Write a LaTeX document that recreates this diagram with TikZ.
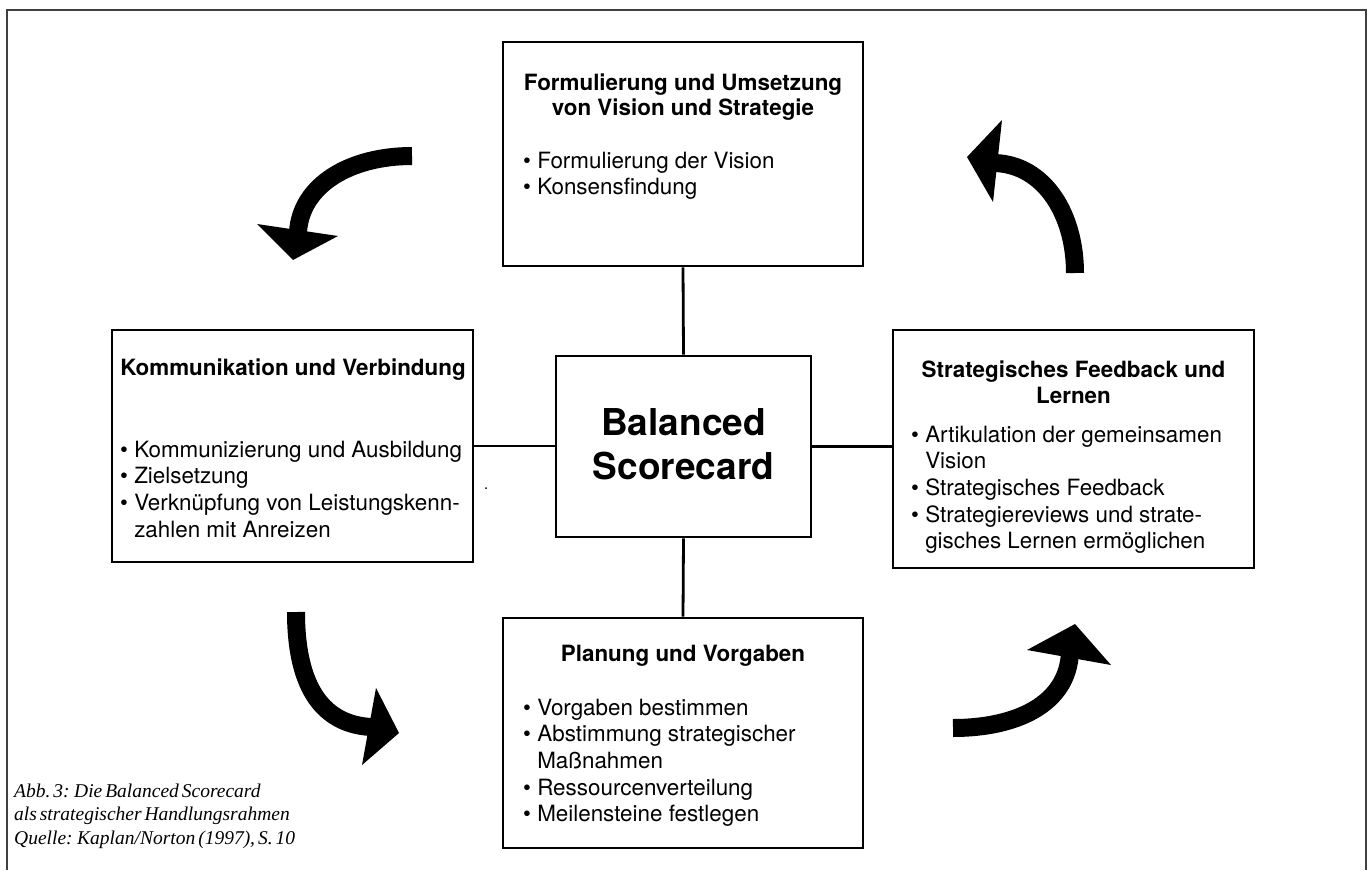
\documentclass[tikz,border=0pt]{standalone}
\usepackage{fontspec}
\setmainfont{TeX Gyre Heros}
\newfontfamily\capfont{Liberation Serif}[WordSpace=0.6]
\begin{document}
\begin{tikzpicture}[x=1pt,y=-1pt,
  box/.style={draw=black, line width=2.6pt, inner sep=0pt},
  link/.style={line width=2.8pt},
  ttl/.style={font=\fontsize{22.4}{25.5}\selectfont\bfseries, inner sep=0pt, anchor=base},
  lst/.style={font=\fontsize{22.4}{26.7}\selectfont, inner sep=0pt, anchor=base west},
  shaft/.style={line width=18pt},
  head/.style={fill=black}]
\useasboundingbox (0,0) rectangle (1370,870);
% outer frame
\draw[line width=2pt, black!75] (1366,870) -- (1366,10) -- (7,10) -- (7,870);

% boxes
\node[box, minimum width=360pt, minimum height=224pt] (top) at (683,154) {};
\node[box, minimum width=255pt, minimum height=181pt] (bsc) at (683.5,446.5) {};
\node[box, minimum width=361pt, minimum height=232pt] (left) at (292.5,446) {};
\node[box, minimum width=361pt, minimum height=238pt] (right) at (1073.5,449) {};
\node[box, minimum width=360pt, minimum height=230pt] (bottom) at (683,733) {};

% connectors
\draw[link] (top.south) -- (bsc.north);
\draw[link] (bsc.south) -- (bottom.north);
\draw[link] (left.east) -- (left.east -| bsc.west);
\draw[link] (bsc.east) -- (bsc.east -| right.west);

% centre text
\node[font=\fontsize{37}{44}\selectfont\bfseries, align=center, inner sep=0pt] (bsctext) at ([yshift=2pt]bsc.center) {Balanced\\Scorecard};

% titles
\node[ttl] (toptitle) at (683,90) {\begin{tabular}[t]{@{}c@{}}Formulierung und Umsetzung\\von Vision und Strategie\end{tabular}};
\node[ttl] (lefttitle) at (293,375) {Kommunikation und Verbindung};
\node[ttl, font=\fontsize{22.4}{26}\selectfont\bfseries] (righttitle) at (1073.5,377) {\begin{tabular}[t]{@{}c@{}}Strategisches Feedback und\\Lernen\end{tabular}};
\node[ttl] (bottomtitle) at (683,661) {Planung und Vorgaben};

% lists
\node[lst] (toplist) at (523,168) {\begin{tabular}[t]{@{}l@{}}• Formulierung der Vision\\• Konsensfindung\end{tabular}};
\node[lst] (leftlist) at (120,457) {\begin{tabular}[t]{@{}l@{}}• Kommunizierung und Ausbildung\\• Zielsetzung\\• Verknüpfung von Leistungskenn-\\\hphantom{• }zahlen mit Anreizen\end{tabular}};
\node[lst] (rightlist) at (911,442) {\begin{tabular}[t]{@{}l@{}}• Artikulation der gemeinsamen\\\hphantom{• }Vision\\• Strategisches Feedback\\• Strategiereviews und strate-\\\hphantom{• }gisches Lernen ermöglichen\end{tabular}};
\node[lst] (bottomlist) at (523,715) {\begin{tabular}[t]{@{}l@{}}• Vorgaben bestimmen\\• Abstimmung strategischer\\\hphantom{• }Maßnahmen\\• Ressourcenverteilung\\• Meilensteine festlegen\end{tabular}};

% curved arrows
\draw[shaft] (412,156) .. controls (350,156) and (301,185) .. (298,232);
\fill[head] (257,224) -- (338,236) -- (293,260) -- cycle;

\draw[shaft] (1075,273) .. controls (1075,215) and (1045,165) .. (995,163);
\fill[head] (1002,120) -- (967,157) -- (993,202) -- cycle;

\draw[shaft] (296,612) .. controls (296,680) and (318,724) .. (371,727);
\fill[head] (376,688) -- (399,733) -- (362,765) -- cycle;

\draw[shaft] (953,728) .. controls (1015,728) and (1068,705) .. (1070,652);
\fill[head] (1027,650) -- (1075,624) -- (1111,665) -- cycle;

% stray dot
\fill (486,488) circle (1pt);

% caption
\node[anchor=base west, inner sep=0pt, font=\capfont\itshape\fontsize{19.5}{23.5}\selectfont] (caption) at (14,797) {\begin{tabular}[t]{@{}l@{}}Abb.~3: Die Balanced Scorecard\\als strategischer Handlungsrahmen\\Quelle: Kaplan/Norton (1997), S.~10\end{tabular}};
\end{tikzpicture}
\end{document}
